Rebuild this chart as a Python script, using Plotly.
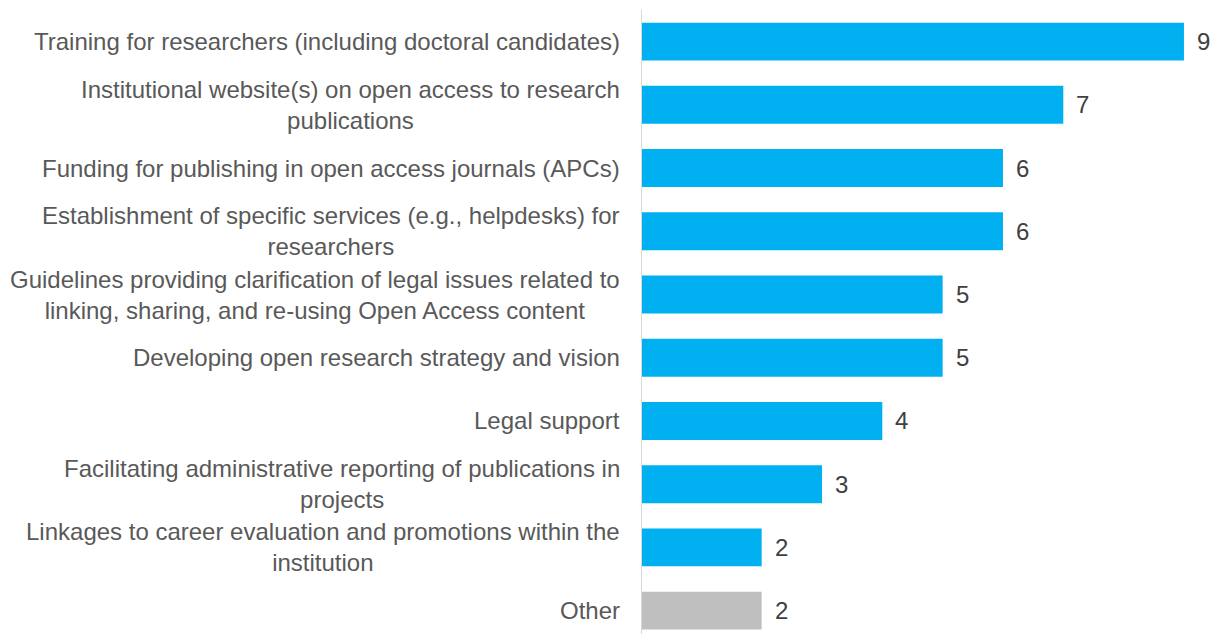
import plotly.graph_objects as go

categories = [
    "Training for researchers (including doctoral candidates)",
    "Institutional website(s) on open access to research<br>publications",
    "Funding for publishing in open access journals (APCs)",
    "Establishment of specific services (e.g., helpdesks) for<br>researchers",
    "Guidelines providing clarification of legal issues related to<br>linking, sharing, and re-using Open Access content",
    "Developing open research strategy and vision",
    "Legal support",
    "Facilitating administrative reporting of publications in<br>projects",
    "Linkages to career evaluation and promotions within the<br>institution",
    "Other",
]
values = [9, 7, 6, 6, 5, 5, 4, 3, 2, 2]
bar_colors = ["#00B0F0"] * 9 + ["#BFBFBF"]

ids = list(range(len(categories)))
label_font = dict(family="Liberation Sans, Arial", size=24, color="#595959")
value_font = dict(family="Liberation Sans, Arial", size=24, color="#404040")

fig = go.Figure()

fig.add_trace(go.Bar(
    x=values,
    y=ids,
    orientation="h",
    marker=dict(color=bar_colors, line=dict(width=0)),
    width=0.6,
    hoverinfo="skip",
))

for i, (cat, v) in enumerate(zip(categories, values)):
    fig.add_annotation(
        x=v, y=i, text=str(v), showarrow=False,
        xanchor="left", yanchor="middle", xshift=11,
        font=value_font,
    )
    # wrapped labels: lines centred on each other, block right-aligned
    fig.add_annotation(
        x=0, y=i, text=cat, showarrow=False,
        xanchor="right", yanchor="middle", align="center", xshift=-19,
        font=label_font,
    )

fig.update_layout(
    width=1212,
    height=634,
    margin=dict(l=641, r=0, t=10, b=0),
    plot_bgcolor="white",
    paper_bgcolor="white",
    showlegend=False,
    xaxis=dict(range=[0, 9.465], visible=False, fixedrange=True),
    yaxis=dict(
        range=[9.37, -0.5],
        showticklabels=False,
        showgrid=False,
        zeroline=False,
        showline=False,
    ),
)

# vertical axis line at x = 0
fig.add_shape(
    type="line", xref="x", yref="paper", x0=0, x1=0, y0=0, y1=1,
    line=dict(color="#D9D9D9", width=2), layer="above",
)

fig.write_html(
    "out.html",
    config={"displayModeBar": False},
    post_script="document.body.style.margin='0';",
)
